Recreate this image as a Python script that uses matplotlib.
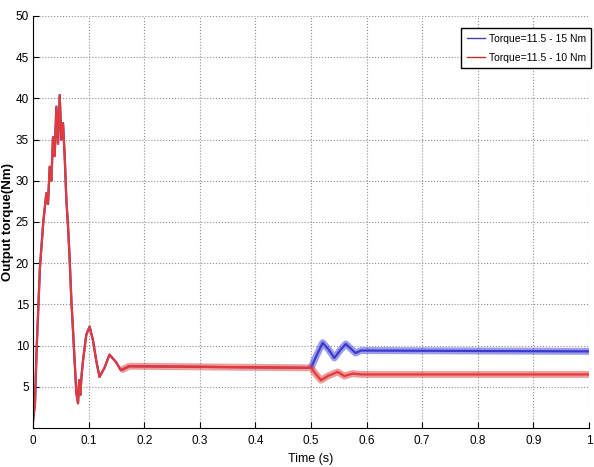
import numpy as np
import matplotlib.pyplot as plt
from matplotlib.lines import Line2D

plt.rcParams['font.family'] = ['Liberation Sans Narrow', 'Liberation Sans', 'DejaVu Sans']
plt.rcParams['font.size'] = 8.5

# shared start-up transient (both cases identical until the load step at 0.5 s)
t_start = [0, 0.0036, 0.0065, 0.0125, 0.0185, 0.024, 0.027, 0.030, 0.033, 0.036,
           0.039, 0.042, 0.045, 0.048, 0.051, 0.054, 0.057, 0.060, 0.063, 0.066,
           0.069, 0.072, 0.075, 0.078, 0.081, 0.083, 0.085, 0.0875, 0.090, 0.0958,
           0.1018, 0.1077, 0.1137, 0.1196, 0.1286, 0.1375, 0.1494, 0.158, 0.173, 0.5]
tq_start = [0.8, 3.0, 9.5, 19.5, 25.0, 28.5, 27.2, 31.7, 30.0, 35.3,
            33.0, 39.0, 34.5, 40.4, 35.0, 37.0, 33.0, 27.7, 24.5, 20.4,
            15.5, 11.8, 8.0, 4.2, 3.0, 5.8, 4.0, 6.5, 8.2, 11.3,
            12.3, 10.7, 8.2, 6.2, 7.3, 8.9, 8.0, 7.0, 7.5, 7.3]

# after the step
t_blue = [0.5, 0.51, 0.521, 0.532, 0.542, 0.552, 0.5625, 0.572, 0.58, 0.59, 1.0]
tq_blue = [7.3, 8.8, 10.35, 9.5, 8.5, 9.4, 10.2, 9.6, 9.1, 9.4, 9.3]
t_red = [0.5, 0.508, 0.518, 0.53, 0.548, 0.56, 0.575, 0.59, 1.0]
tq_red = [7.3, 6.6, 5.8, 6.3, 6.8, 6.3, 6.6, 6.5, 6.5]

labels = ['Torque=11.5 - 15 Nm', 'Torque=11.5 - 10 Nm']
x_ticklabels = ['0', '0.1', '0.2', '0.3', '0.4', '0.5', '0.6', '0.7', '0.8', '0.9', '1']
blue = '#3a3ad2'
red = '#e03a3a'

W, H = 594, 467
fig = plt.figure(figsize=(W/100, H/100), dpi=100)
ax_l, ax_r, ax_b, ax_t = 33, 589, 428, 16
ax = fig.add_axes([ax_l/W, 1-ax_b/H, (ax_r-ax_l)/W, (ax_b-ax_t)/H])

tb = np.array(t_start[:-1] + t_blue)
yb = np.array(tq_start[:-1] + tq_blue)
tr = np.array(t_start[:-1] + t_red)
yr = np.array(tq_start[:-1] + tq_red)

ax.plot(tb, yb, color=blue, lw=1.6)
ax.plot(tr, yr, color=red, lw=1.6)

# ripple band in steady state
m = tb >= 0.5
ax.plot(tb[m], yb[m], color=blue, lw=5, alpha=0.5, solid_capstyle='butt')
m = tr >= 0.158
ax.plot(tr[m], yr[m], color=red, lw=5, alpha=0.5, solid_capstyle='butt')

ax.set_xlim(0, 1)
ax.set_ylim(0, 50)
ax.set_xticks(np.linspace(0, 1, 11))
ax.set_xticklabels(x_ticklabels)
ax.set_yticks(np.arange(5, 51, 5))
ax.tick_params(direction='in', length=4, width=0.8, pad=3)
ax.tick_params(axis='x', pad=5)
ax.grid(True, linestyle=':', color='#909090', lw=0.8)
ax.spines['top'].set_visible(False)
ax.spines['right'].set_visible(False)

ax.set_xlabel('Time (s)', fontsize=9)
ax.xaxis.set_label_coords(0.5, (ax_b-459)/(ax_b-ax_t))
ax.set_ylabel('Output torque(Nm)', fontweight='bold', fontsize=9.5)
ax.yaxis.set_label_coords((8-ax_l)/(ax_r-ax_l), 0.5)
ax.xaxis.label.set_va('center')
ax.yaxis.label.set_va('center')

handles = [Line2D([], [], color='#4040b0', lw=1), Line2D([], [], color='#c03030', lw=1)]
ax.legend(handles, labels, loc='upper left',
          bbox_to_anchor=((461-ax_l)/(ax_r-ax_l), (ax_b-28)/(ax_b-ax_t)),
          fancybox=False, edgecolor='black', framealpha=1, fontsize=7.5,
          handlelength=1.8, handletextpad=0.3, borderpad=0.55, labelspacing=0.85,
          borderaxespad=0)

fig.savefig('out.png', dpi=100)
